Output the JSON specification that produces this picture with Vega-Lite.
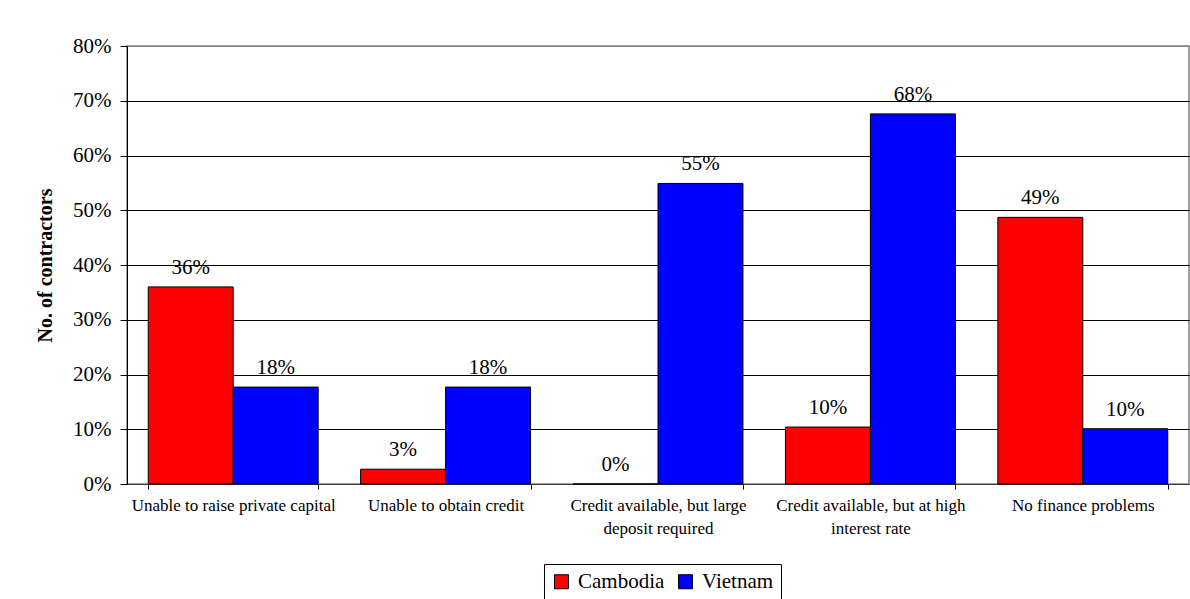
{
  "$schema": "https://vega.github.io/schema/vega-lite/v6.json",
  "width": 1062,
  "height": 438,
  "autosize": {"type": "none"},
  "padding": {"left": 127, "top": 46, "right": 1, "bottom": 115},
  "background": "white",
  "config": {
    "font": "Liberation Serif",
    "text": {"font": "Liberation Serif"},
    "legend": {"labelFont": "Liberation Serif"},
    "axis": {"labelFont": "Liberation Serif", "titleFont": "Liberation Serif"},
    "view": {"stroke": "#808080", "strokeWidth": 1.5}
  },
  "data": {
    "values": [
      {"category": "Unable to raise private capital", "country": "Cambodia", "value": 0.36},
      {"category": "Unable to raise private capital", "country": "Vietnam", "value": 0.177},
      {"category": "Unable to obtain credit", "country": "Cambodia", "value": 0.027},
      {"category": "Unable to obtain credit", "country": "Vietnam", "value": 0.177},
      {"category": "Credit available, but large deposit required", "country": "Cambodia", "value": 0},
      {"category": "Credit available, but large deposit required", "country": "Vietnam", "value": 0.549},
      {"category": "Credit available, but at high interest rate", "country": "Cambodia", "value": 0.104},
      {"category": "Credit available, but at high interest rate", "country": "Vietnam", "value": 0.676},
      {"category": "No finance problems", "country": "Cambodia", "value": 0.487},
      {"category": "No finance problems", "country": "Vietnam", "value": 0.101}
    ]
  },
  "encoding": {
    "x": {
      "field": "category",
      "type": "nominal",
      "sort": [
        "Unable to raise private capital",
        "Unable to obtain credit",
        "Credit available, but large deposit required",
        "Credit available, but at high interest rate",
        "No finance problems"
      ],
      "scale": {"paddingInner": 0.2, "paddingOuter": 0.1},
      "axis": {
        "title": null,
        "labelAngle": 0,
        "labelFont": "Liberation Serif",
        "labelFontSize": 17,
        "labelColor": "black",
        "labelLimit": 0,
        "labelPadding": 8,
        "labelLineHeight": 23,
        "tickBand": "extent",
        "tickSize": 5,
        "tickColor": "black",
        "domainColor": "#404040",
        "labelExpr": "datum.label == 'Credit available, but large deposit required' ? ['Credit available, but large', 'deposit required'] : datum.label == 'Credit available, but at high interest rate' ? ['Credit available, but at high', 'interest rate'] : datum.label"
      }
    },
    "xOffset": {"field": "country", "type": "nominal", "sort": ["Cambodia", "Vietnam"]},
    "y": {
      "field": "value",
      "type": "quantitative",
      "scale": {"domain": [0, 0.8]},
      "axis": {
        "values": [0, 0.1, 0.2, 0.3, 0.4, 0.5, 0.6, 0.7, 0.8],
        "format": ".0%",
        "labelFont": "Liberation Serif",
        "labelFontSize": 21,
        "labelColor": "black",
        "labelPadding": 9,
        "tickSize": 7,
        "tickColor": "black",
        "domainColor": "black",
        "grid": true,
        "gridColor": {"condition": {"test": "datum.value >= 0.8", "value": "#808080"}, "value": "black"},
        "title": "No. of contractors",
        "titleFont": "Liberation Serif",
        "titleFontSize": 20,
        "titleFontWeight": "bold",
        "titleColor": "black",
        "titleX": -82,
        "titleY": 219,
        "titleAngle": -90,
        "titleAlign": "center",
        "titleBaseline": "middle"
      }
    }
  },
  "layer": [
    {
      "mark": {"type": "bar", "stroke": "black", "strokeWidth": 1},
      "encoding": {
        "color": {
          "field": "country",
          "type": "nominal",
          "scale": {"domain": ["Cambodia", "Vietnam"], "range": ["#FF0000", "#0000FF"]},
          "legend": {
            "title": null,
            "orient": "none",
            "legendX": 417,
            "legendY": 518,
            "direction": "horizontal",
            "labelFont": "Liberation Serif",
            "labelFontSize": 21,
            "labelColor": "black",
            "symbolType": "square",
            "symbolSize": 196,
            "symbolStrokeColor": "black",
            "symbolStrokeWidth": 1,
            "strokeColor": "black",
            "fillColor": "white",
            "padding": 7,
            "labelOffset": 6,
            "columnPadding": 10
          }
        }
      }
    },
    {
      "mark": {"type": "text", "font": "Liberation Serif", "baseline": "alphabetic", "dy": -13, "fontSize": 21, "color": "black"},
      "encoding": {"text": {"field": "value", "type": "quantitative", "format": ".0%"}}
    }
  ]
}
